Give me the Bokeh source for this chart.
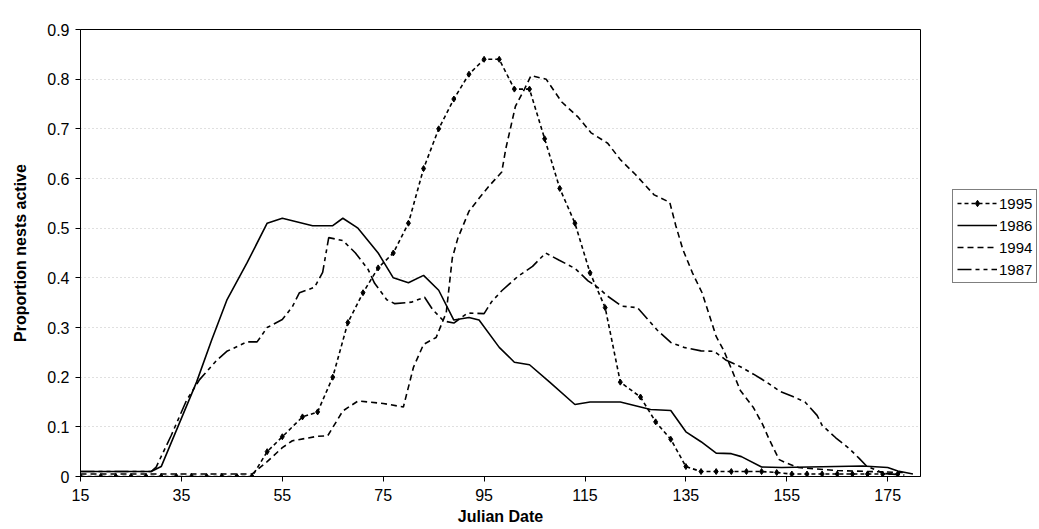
from bokeh.plotting import figure
from bokeh.models import FixedTicker, Legend, LegendItem, Range1d
from bokeh.layouts import row
from bokeh.embed import file_html
from bokeh.resources import INLINE

# ---------------- data ----------------
days_1995 = [15, 19, 22, 25, 28, 31, 34, 37, 40, 43, 46, 49,
             52, 55, 59, 62, 65, 68, 71, 74, 77, 80,
             83, 86, 89, 92, 95, 98, 101, 104, 107, 110,
             113, 116, 119, 122, 126, 129, 132, 135,
             138, 141, 144, 147, 150, 153, 156, 159, 162, 165, 168, 171, 174, 177]
vals_1995 = [0, 0, 0, 0, 0, 0, 0, 0, 0, 0, 0, 0,
             0.05, 0.08, 0.12, 0.13, 0.20, 0.31, 0.37, 0.42, 0.45, 0.51,
             0.62, 0.70, 0.76, 0.81, 0.84, 0.84, 0.78, 0.78, 0.68, 0.58,
             0.51, 0.41, 0.34, 0.19, 0.16, 0.11, 0.075, 0.02,
             0.01, 0.01, 0.01, 0.01, 0.01, 0.008, 0.005, 0.005, 0.005, 0.005, 0.005, 0.005, 0.005, 0.005]

days_1986 = [15, 29, 31, 38, 41, 44, 48, 52, 55, 61, 65, 67, 70, 74, 77, 80, 83, 86,
             89, 92, 94, 98, 101, 104, 108, 113, 116, 122, 128, 132, 135, 138, 141,
             144, 146, 150, 154, 170, 175, 177, 180]
vals_1986 = [0.01, 0.01, 0.02, 0.19, 0.275, 0.355, 0.43, 0.51, 0.52, 0.505, 0.505, 0.52, 0.50,
             0.45, 0.40, 0.39, 0.405, 0.375, 0.315, 0.32, 0.315, 0.26, 0.23, 0.225, 0.19,
             0.145, 0.15, 0.15, 0.135, 0.133, 0.09, 0.07, 0.047, 0.046, 0.04, 0.019, 0.018,
             0.021, 0.018, 0.011, 0.005]

days_1994 = [15, 49, 52, 55, 57, 62, 64, 67, 70, 75, 79, 81, 83, 85.5, 87.5, 88.7, 89.8,
             92, 94, 96, 98.5, 99.3, 100.2, 101.2, 103, 104.3, 107.3, 110.4, 113.7, 116.2,
             119.5, 122, 125, 128.7, 131.8, 133, 134.4, 136.3, 138.2, 141, 142.5, 145.8,
             148.3, 150.2, 151.5, 152.7, 153.5, 154.7, 157.3, 165, 178]
vals_1994 = [0.005, 0.005, 0.03, 0.058, 0.072, 0.081, 0.082, 0.132, 0.152, 0.147, 0.14, 0.22,
             0.266, 0.28, 0.33, 0.44, 0.48, 0.534, 0.56, 0.585, 0.613, 0.66, 0.70, 0.745,
             0.78, 0.807, 0.80, 0.754, 0.723, 0.692, 0.671, 0.638, 0.608, 0.567, 0.552,
             0.505, 0.457, 0.41, 0.37, 0.282, 0.254, 0.173, 0.14, 0.105, 0.075, 0.05,
             0.034, 0.028, 0.018, 0.012, 0.008]

days_1987 = [15, 29, 30, 33, 36, 38.6, 42, 44, 48, 50, 52, 55, 57, 58.4, 61.4, 63, 64.2,
             67, 69.5, 72, 73.3, 75.7, 77.3, 80.6, 83.2, 84.8, 87, 89, 91.7, 95, 96.5,
             98.5, 101.7, 104.6, 107.2, 109.8, 113, 115.6, 117.6, 119.5, 122.3, 125.4,
             127.4, 129.3, 132, 134.6, 138, 140.6, 143, 145.8, 148.4, 151, 153.7, 156.2,
             158.6, 161, 162, 164.7, 167.4, 169.3, 170.8, 174.3, 178.3]
vals_1987 = [0.01, 0.01, 0.019, 0.083, 0.153, 0.195, 0.234, 0.252, 0.271, 0.271, 0.30, 0.316,
             0.342, 0.37, 0.381, 0.411, 0.481, 0.475, 0.45, 0.417, 0.389, 0.356, 0.348,
             0.351, 0.361, 0.336, 0.313, 0.309, 0.329, 0.328, 0.352, 0.374, 0.403, 0.423,
             0.45, 0.436, 0.419, 0.394, 0.38, 0.363, 0.343, 0.34, 0.317, 0.295, 0.27, 0.26,
             0.253, 0.252, 0.234, 0.221, 0.206, 0.19, 0.171, 0.161, 0.15, 0.123, 0.103,
             0.078, 0.056, 0.037, 0.021, 0.006, 0.003]

x_ticks = [15, 35, 55, 75, 95, 115, 135, 155, 175]
y_ticks = [0, 0.1, 0.2, 0.3, 0.4, 0.5, 0.6, 0.7, 0.8, 0.9]
y_labels = ["0", "0.1", "0.2", "0.3", "0.4", "0.5", "0.6", "0.7", "0.8", "0.9"]
series_names = ["1995", "1986", "1994", "1987"]

FONT = "Liberation Sans"
NAN = float("nan")

STYLE_95 = dict(line_color="black", line_width=1.6, line_dash="4 3")
STYLE_86 = dict(line_color="black", line_width=1.6)
STYLE_94 = dict(line_color="black", line_width=1.6, line_dash="6 4")
STYLE_87 = dict(line_color="black", line_width=1.6, line_dash="14 4 4 4 4 4")
MARK_95 = dict(marker="diamond", size=6, fill_color="black", line_color="black")

# ---------------- main chart ----------------
p = figure(width=922, height=529, output_backend="svg", toolbar_location=None,
           x_range=Range1d(15, 181.5), y_range=Range1d(0, 0.9),
           min_border_left=80, min_border_right=2, min_border_top=29, min_border_bottom=53)
p.background_fill_color = "white"
p.border_fill_color = "white"
p.outline_line_color = "black"
p.outline_line_width = 1
p.outline_line_alpha = 1

p.line(days_1995, vals_1995, **STYLE_95)
p.scatter(days_1995, vals_1995, **MARK_95)
p.line(days_1986, vals_1986, **STYLE_86)
p.line(days_1994, vals_1994, **STYLE_94)
p.line(days_1987, vals_1987, **STYLE_87)

for ax in (p.xaxis[0], p.yaxis[0]):
    ax.axis_line_color = "black"
    ax.axis_line_width = 1
    ax.major_tick_line_color = "black"
    ax.major_tick_in = 0
    ax.major_tick_out = 5
    ax.minor_tick_line_color = None
    ax.major_label_text_font = FONT
    ax.major_label_text_font_size = "16px"
    ax.major_label_text_color = "black"
    ax.axis_label_text_font = FONT
    ax.axis_label_text_font_style = "bold"
    ax.axis_label_text_font_size = "16px"
    ax.axis_label_text_color = "black"

p.xaxis.ticker = FixedTicker(ticks=x_ticks)
p.xaxis.axis_label = "Julian Date"
p.xaxis.major_label_standoff = 7
p.xaxis.axis_label_standoff = 4

p.yaxis.ticker = FixedTicker(ticks=y_ticks)
p.yaxis.major_label_overrides = {t: s for t, s in zip(y_ticks, y_labels)}
p.yaxis.axis_label = "Proportion nests active"
p.yaxis.major_label_standoff = 6
p.yaxis.axis_label_standoff = 15

p.xgrid.grid_line_color = None
p.ygrid.ticker = FixedTicker(ticks=y_ticks[1:])
p.ygrid.grid_line_color = "#c0c0c0"
p.ygrid.grid_line_dash = "1 3"
p.ygrid.grid_line_width = 1

# ---------------- legend panel (to the right of the chart) ----------------
lp = figure(width=117, height=529, output_backend="svg", toolbar_location=None,
            x_range=Range1d(0, 1), y_range=Range1d(0, 1),
            x_axis_type=None, y_axis_type=None,
            min_border_left=0, min_border_right=0, min_border_top=0, min_border_bottom=0)
lp.outline_line_color = None
lp.xgrid.grid_line_color = None
lp.ygrid.grid_line_color = None
lp.background_fill_color = "white"
lp.border_fill_color = "white"

# key-only renderers (no visible data), styled like the series
k95 = lp.line([NAN], [NAN], **STYLE_95)
k95m = lp.scatter([NAN], [NAN], **MARK_95)
k86 = lp.line([NAN], [NAN], **STYLE_86)
k94 = lp.line([NAN], [NAN], **STYLE_94)
k87 = lp.line([NAN], [NAN], **STYLE_87)

legend = Legend(items=[
    LegendItem(label=series_names[0], renderers=[k95, k95m]),
    LegendItem(label=series_names[1], renderers=[k86]),
    LegendItem(label=series_names[2], renderers=[k94]),
    LegendItem(label=series_names[3], renderers=[k87]),
], location=(30, 193))
legend.border_line_color = "black"
legend.border_line_width = 1
legend.background_fill_color = "white"
legend.background_fill_alpha = 1
legend.label_text_font = FONT
legend.label_text_font_size = "15px"
legend.label_text_color = "black"
legend.glyph_width = 40
legend.glyph_height = 16
legend.label_height = 18
legend.spacing = 4
legend.padding = 4
legend.margin = 0
legend.label_standoff = 2
lp.add_layout(legend, "center")

layout = row(p, lp, spacing=0)
open("out.html", "w").write(file_html(layout, INLINE))
